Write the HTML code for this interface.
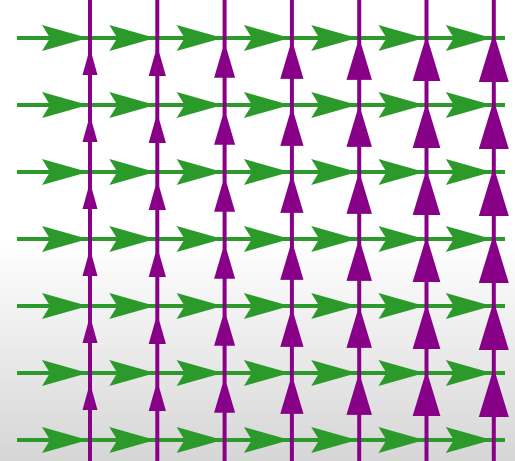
<!DOCTYPE html>
<html><head><meta charset="utf-8"><style>
html,body{margin:0;padding:0;width:515px;height:461px;overflow:hidden;background:#fff}
svg{display:block}
</style></head><body>
<svg id="chart" width="515" height="461" viewBox="0 0 515 461" xmlns="http://www.w3.org/2000/svg">
<defs><linearGradient id="bg" x1="0" y1="0" x2="0" y2="1">
<stop offset="0" stop-color="#ffffff"/><stop offset="0.52" stop-color="#ffffff"/><stop offset="1" stop-color="#d6d6d6"/></linearGradient></defs>
<rect width="515" height="461" fill="url(#bg)"/>
<g id="green"></g>
<g id="purple"></g>
</svg>
<script>
const columnIndex = [0,1,2,3,4,5,6];
const rowIndex = [0,1,2,3,4,5,6];
const verticalMagnitude = [1,1.15,1.4,1.55,1.7,1.85,2];
const horizontalMagnitude = [1,1,1,1,1,1,1];

const NS='http://www.w3.org/2000/svg';
const xPos=i=>90+67.3*i;
const yPos=j=>38+67*j;
const G='#2b9a2b', P='#880088';
const gG=document.getElementById('green'), gP=document.getElementById('purple');
function mk(tag,attrs,parent){const e=document.createElementNS(NS,tag);for(const k in attrs)e.setAttribute(k,attrs[k]);parent.appendChild(e);return e;}

rowIndex.forEach(j=>{
  const y=yPos(j);
  const ln=mk('line',{x1:17,y1:y,x2:505,y2:y,stroke:G,'stroke-width':4},gG);
  
  
  columnIndex.forEach(i=>{
    const m=horizontalMagnitude[i];
    const tip=xPos(i)-2, len=44*m, hw=13*m;
    const p=mk('polygon',{points:`${tip},${y} ${tip-len-2},${y-hw} ${tip-len+6},${y} ${tip-len-2},${y+hw}`,fill:G},gG);
    
    
  });
});

columnIndex.forEach(i=>{
  const x=xPos(i), m=verticalMagnitude[i];
  const ln=mk('line',{x1:x,y1:0,x2:x,y2:461,stroke:P,'stroke-width':4},gP);
  
  
  rowIndex.slice(0,6).forEach(j=>{
    const tip=yPos(j)+25-15*m, len=22*m+5, hw=7.5*m;
    const p=mk('polygon',{points:`${x},${tip} ${x-hw},${tip+len} ${x+hw},${tip+len}`,fill:P},gP);
    
    
  });
});
</script>
</body></html>
